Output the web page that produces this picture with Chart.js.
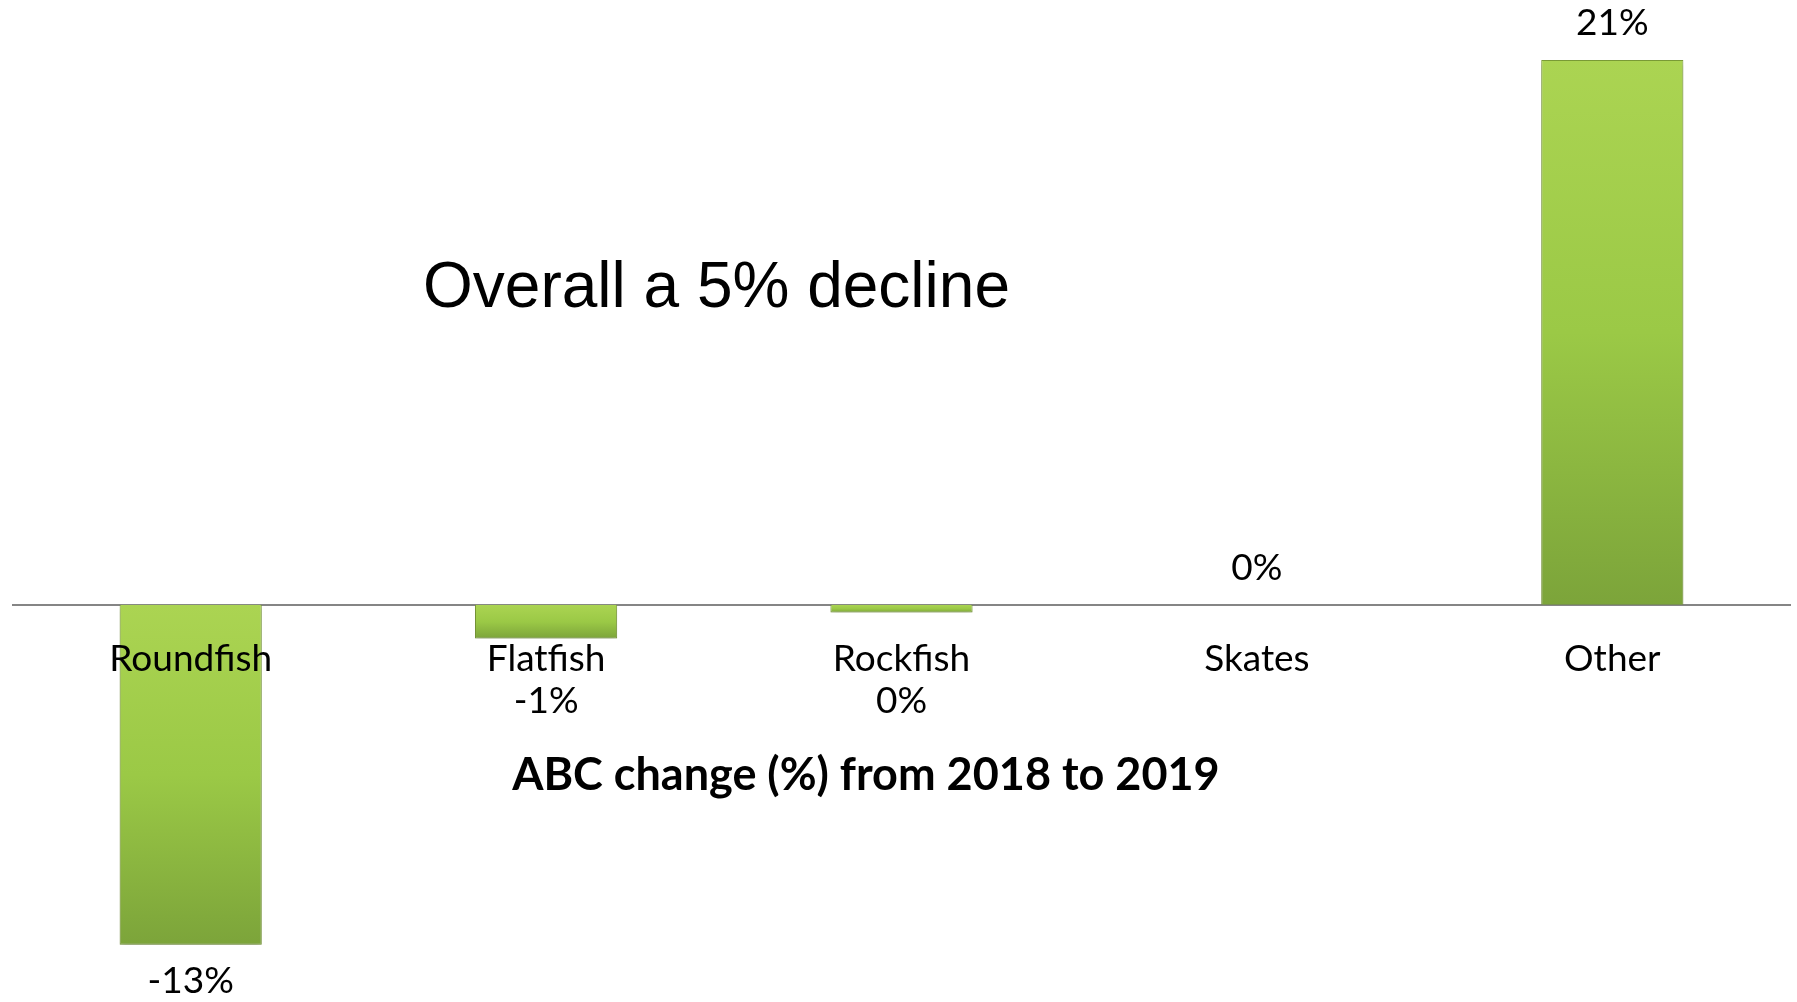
<!DOCTYPE html>
<html>
<head>
<meta charset="utf-8">
<script src="https://cdn.jsdelivr.net/npm/chart.js@4.4.1/dist/chart.umd.min.js"></script>
<style>
  html, body { margin: 0; padding: 0; background: #ffffff; }
  #wrap { width: 1797px; height: 1002px; }
</style>
</head>
<body>
<div id="wrap"><canvas id="ChartAbc"></canvas></div>
<script>
const categories = ['Roundfish', 'Flatfish', 'Rockfish', 'Skates', 'Other'];
const abcChange = [-13.1, -1.3, -0.3, 0, 21];
const overallNote = 'Overall a 5% decline';
const chartCaption = 'ABC change (%) from 2018 to 2019';

const ctx = document.getElementById('ChartAbc').getContext('2d');

// green bars, lighter at the top edge and darker at the bottom
function barFill(context) {
    const chart = context.chart;
    if (!chart.chartArea) return '#95c443';
    const y = chart.scales.y;
    const v = context.raw;
    const a = y.getPixelForValue(Math.max(v, 0));
    const b = y.getPixelForValue(Math.min(v, 0));
    if (b - a < 1) return '#a6d04c';
    const g = chart.ctx.createLinearGradient(0, a, 0, b);
    g.addColorStop(0, '#abd452');
    g.addColorStop(0.5, '#9bc946');
    g.addColorStop(1, '#7ca43a');
    return g;
}

const pct = v => Math.round(v) + '%';

const labelsPlugin = {
    id: 'abcLabels',
    beforeDatasetDraw(chart) {
        const c = chart.ctx;
        c.save();
        c.shadowColor = 'rgba(0,0,0,0.22)';
        c.shadowBlur = 6;
        c.shadowOffsetY = 3;
    },
    afterDatasetDraw(chart) {
        chart.ctx.restore();
    },
    afterDatasetsDraw(chart) {
        const c = chart.ctx;
        const meta = chart.getDatasetMeta(0);
        const base = chart.scales.y.getPixelForValue(0);
        c.save();
        c.fillStyle = '#000';
        c.textAlign = 'center';
        c.textBaseline = 'middle';
        c.font = '37px Lato';
        meta.data.forEach((bar, i) => {
            const v = abcChange[i];
            let ly;
            if (v >= 0) ly = bar.y - 37;
            else ly = Math.max(bar.y + 36, base + 96);
            c.fillText(pct(v), bar.x, ly);
        });

        c.textAlign = 'left';
        c.font = '64px "Liberation Sans"';
        c.fillText(overallNote, chart.width * 0.2354, chart.height * 0.289);

        c.font = 'bold 45px Lato';
        c.fillText(chartCaption, chart.width * 0.285, chart.height * 0.774);
        c.restore();
    }
};

new Chart(ctx, {
    type: 'bar',
    data: {
        labels: categories,
        datasets: [{
            data: abcChange,
            backgroundColor: barFill,
            borderColor: '#7d9f37',
            borderWidth: 1,
            categoryPercentage: 0.8,
            barPercentage: 0.5
        }]
    },
    options: {
        responsive: true,
        maintainAspectRatio: false,
        animation: false,
        layout: { padding: { top: 34, bottom: 8, left: 13, right: 7 } },
        plugins: {
            legend: { display: false },
            tooltip: { enabled: false }
        },
        scales: {
            x: {
                position: { y: 0 },
                grid: { display: false, drawTicks: false },
                border: { display: true, color: '#858585', width: 2 },
                ticks: {
                    z: 1,
                    color: '#000',
                    font: { family: 'Lato', size: 37 },
                    padding: 32
                }
            },
            y: {
                display: false,
                min: -15,
                max: 22
            }
        }
    },
    plugins: [labelsPlugin]
});
</script>
</body>
</html>
